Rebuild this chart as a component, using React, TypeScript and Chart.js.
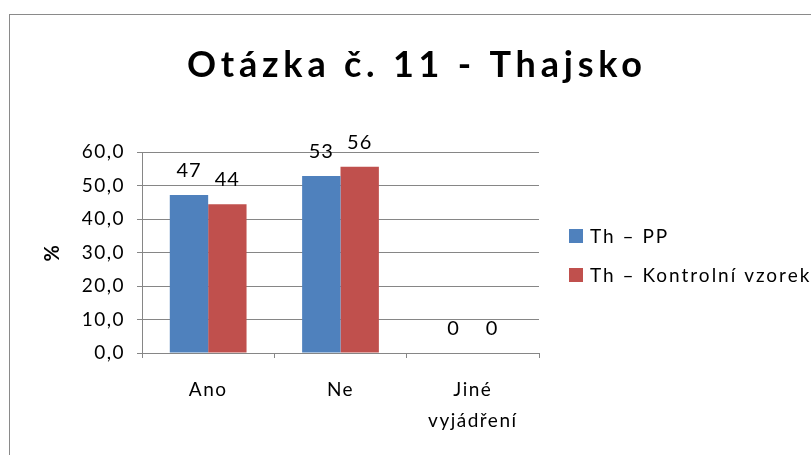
import React, { useEffect, useRef } from "react";
import { Chart, registerables } from "chart.js";

Chart.register(...registerables);

const categories: (string | string[])[] = ["Ano", "Ne", ["Jiné", "vyjádření"]];
const seriesNames = ["Th – PP", "Th – Kontrolní vzorek"];
const ppValues = [47.2, 52.8, 0];
const kvValues = [44.4, 55.6, 0];
const seriesColors = ["#4F81BD", "#C0504D"];
const titleText = "Otázka č. 11 - Thajsko";
const yTitle = "%";
const yMin = 0;
const yMax = 60;
const yStep = 10;

const FONT = "Lato, 'Open Sans', sans-serif";
const GRID = "#868686";

const framePlugin = {
  id: "frame",
  beforeDraw(chart: any) {
    const ctx = chart.ctx;
    ctx.save();
    ctx.fillStyle = "#ffffff";
    ctx.fillRect(0, 0, chart.width, chart.height);
    ctx.strokeStyle = "#8a8a8a";
    ctx.lineWidth = 1;
    ctx.strokeRect(9.5, 14.5, 900, 600);
    ctx.restore();
    (ctx as any).letterSpacing = "1.5px";
  },
  afterDatasetsDraw(chart: any) {
    (chart.ctx as any).letterSpacing = "0px";
  },
};

const titlePlugin = {
  id: "customTitle",
  afterDraw(chart: any) {
    const ctx = chart.ctx;
    ctx.save();
    ctx.font = `bold 36px ${FONT}`;
    ctx.fillStyle = "#000";
    ctx.textBaseline = "alphabetic";
    ctx.textAlign = "left";
    (ctx as any).letterSpacing = "0px";
    const w0 = ctx.measureText(titleText).width;
    const n = Array.from(titleText).length;
    const target = 455;
    const sp = Math.max(0, (target - w0) / (n - 1));
    (ctx as any).letterSpacing = sp + "px";
    ctx.fillText(titleText, 187, 77);
    ctx.restore();
  },
};

const legendPlugin = {
  id: "customLegend",
  afterDraw(chart: any) {
    const ctx = chart.ctx;
    ctx.save();
    ctx.font = `19px ${FONT}`;
    ctx.textBaseline = "alphabetic";
    ctx.textAlign = "left";
    (ctx as any).letterSpacing = "2px";
    const ys = [229, 268];
    chart.data.datasets.forEach((ds: any, i: number) => {
      ctx.fillStyle = ds.backgroundColor;
      ctx.fillRect(569, ys[i], 14, 14);
      ctx.fillStyle = "#000";
      ctx.fillText(ds.label, 590, ys[i] + 14);
    });
    ctx.restore();
  },
};

const valueLabelPlugin = {
  id: "valueLabels",
  afterDatasetsDraw(chart: any) {
    const ctx = chart.ctx;
    ctx.save();
    ctx.font = `20px ${FONT}`;
    (ctx as any).letterSpacing = "1px";
    ctx.fillStyle = "#000";
    ctx.textAlign = "center";
    ctx.textBaseline = "alphabetic";
    chart.data.datasets.forEach((ds: any, di: number) => {
      const meta = chart.getDatasetMeta(di);
      meta.data.forEach((bar: any, i: number) => {
        const v = ds.data[i];
        ctx.fillText(String(Math.round(v)), bar.x, bar.y - 18);
      });
    });
    ctx.restore();
  },
};

export default function App() {
  const ref = useRef<HTMLCanvasElement | null>(null);
  useEffect(() => {
    if (!ref.current) return;
    const chart = new Chart(ref.current, {
      type: "bar",
      data: {
        labels: categories as any,
        datasets: [
          { label: seriesNames[0], data: ppValues, backgroundColor: seriesColors[0], borderWidth: 0 },
          { label: seriesNames[1], data: kvValues, backgroundColor: seriesColors[1], borderWidth: 0 },
        ],
      },
      options: {
        animation: false,
        responsive: false,
        devicePixelRatio: 1,
        layout: { padding: { left: 41, top: 152, right: 272, bottom: 0 } },
        datasets: { bar: { categoryPercentage: 0.58, barPercentage: 1.0 } },
        plugins: {
          legend: { display: false },
          title: { display: false },
          tooltip: { enabled: false },
        },
        scales: {
          x: {
            grid: { display: true, drawOnChartArea: false, drawTicks: true, tickLength: 5, offset: true, color: GRID },
            border: { display: true, color: GRID },
            ticks: { color: "#000", font: { family: FONT, size: 19, lineHeight: "31px" } as any, padding: 16, maxRotation: 0 },
            afterFit: (s: any) => { s.height = 102; },
          },
          y: {
            min: yMin,
            max: yMax,
            grid: { color: GRID, tickLength: 5, drawTicks: true },
            border: { display: true, color: GRID },
            ticks: {
              stepSize: yStep,
              color: "#000",
              padding: 12,
              font: { family: FONT, size: 19 },
              callback: (v: any) => Number(v).toFixed(1).replace(".", ","),
            },
            title: { display: true, text: yTitle, color: "#000", font: { family: FONT, size: 20, weight: "bold" }, padding: 0 },
            afterFit: (s: any) => { s.width = 101; },
          },
        },
      },
      plugins: [framePlugin, titlePlugin, legendPlugin, valueLabelPlugin],
    });
    return () => chart.destroy();
  }, []);
  return (
    <div style={{ position: "fixed", left: 0, top: 0, width: 811, height: 455, background: "#fff" }}>
      <canvas ref={ref} width={811} height={455} style={{ width: 811, height: 455, display: "block" }} />
    </div>
  );
}
